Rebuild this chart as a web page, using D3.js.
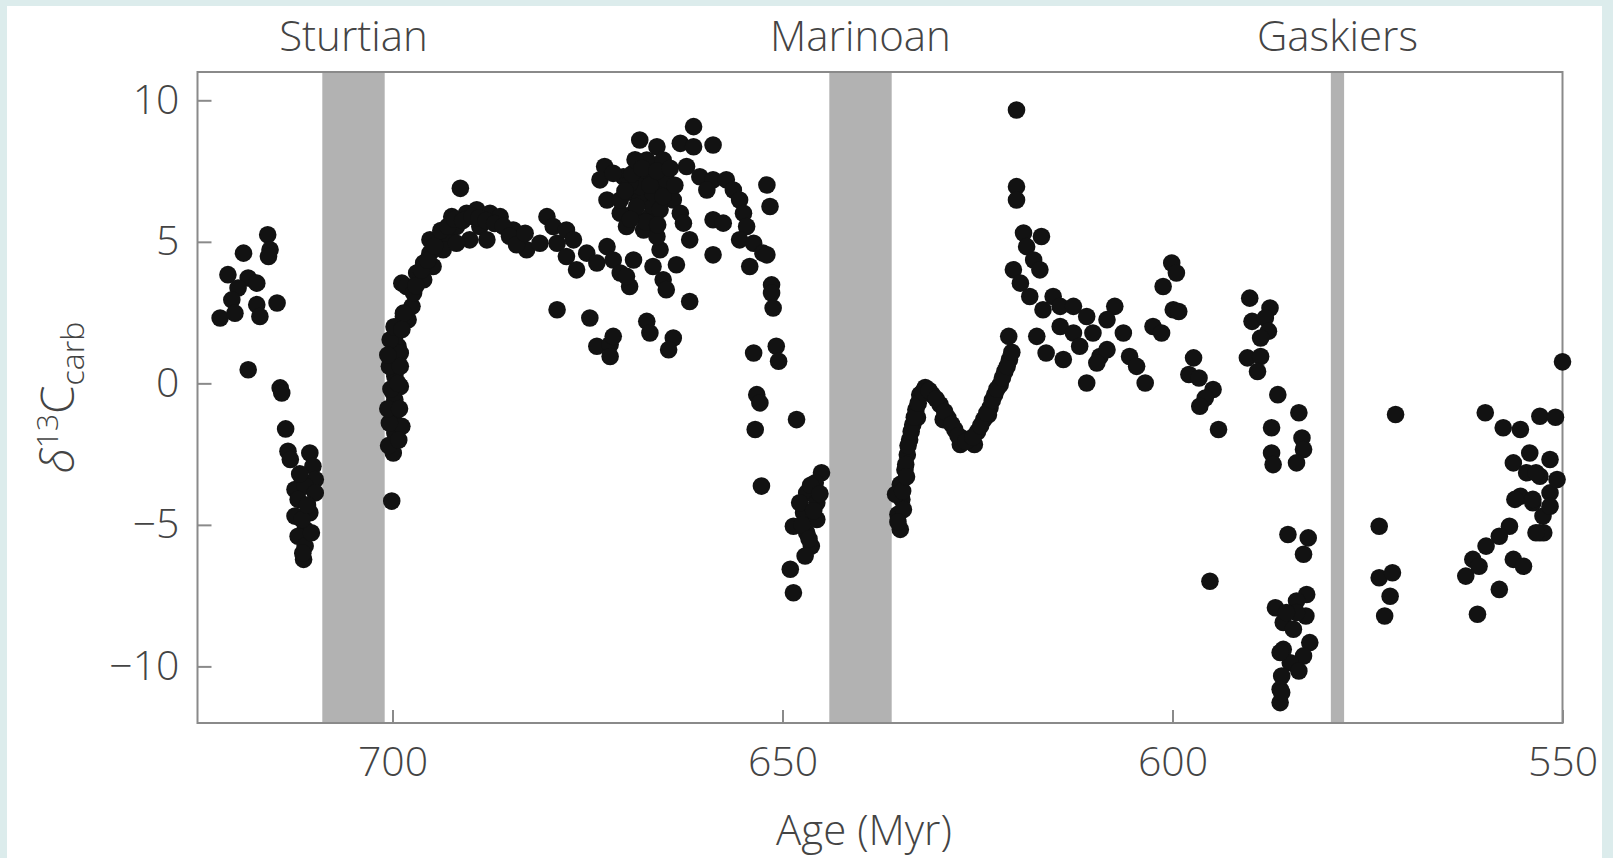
<!DOCTYPE html>
<html>
<head>
<meta charset="utf-8">
<script src="https://d3js.org/d3.v7.min.js"></script>
<style>
  body { margin: 0; background: #dcecec; }
  svg { display: block; }
</style>
</head>
<body>
<svg id="chart" width="1613" height="858"></svg>
<script>
// glaciations (Myr)
const glacNames = ["Sturtian", "Marinoan", "Gaskiers"];
const glacStart = [709, 644, 579.7];
const glacEnd = [701, 636, 578];

const xTicks = [700, 650, 600, 550];
const yTicks = [-10, -5, 0, 5, 10];

// [age (Myr), d13C carb]
const preSturtian = [[716.0,5.25],[715.7,4.72],[715.9,4.48],[719.1,4.60],[721.1,3.84],[718.5,3.72],[717.4,3.54],[719.8,3.37],[720.6,2.95],[717.4,2.78],[714.8,2.84],[722.1,2.31],[720.2,2.48],[717.0,2.36],[718.5,0.48],[714.4,-0.16],[714.2,-0.34],[713.7,-1.61],[713.4,-2.40],[713.1,-2.69],[710.6,-2.46],[710.2,-2.93],[709.9,-3.40],[712.5,-3.75],[711.2,-3.63],[712.1,-4.10],[710.6,-4.57],[712.5,-4.69],[711.2,-5.16],[712.1,-5.40],[711.2,-5.75],[711.4,-6.22],[710.4,-5.28],[711.6,-4.81],[709.9,-3.87],[710.9,-4.3],[711.9,-3.2],[711.5,-6.0]];

const postSturtian = [[700.1,-4.16],[698.8,3.54],[698.6,2.36],[699.7,1.66],[699.5,1.07],[699.7,0.37],[699.7,-0.58],[699.9,-1.16],[699.7,-1.75],[699.9,-2.46],[699.0,-0.11],[698.8,-1.52],[699.9,-0.34],[699.7,0.25],[699.3,1.31],[698.0,2.25],[697.5,2.72],[698.2,3.42],[696.9,3.90],[696.0,4.25],[695.2,4.60],[694.3,5.07],[693.0,5.19],[691.8,5.54],[691.3,6.89],[692.4,5.89],[690.5,6.01],[689.2,6.13],[687.5,6.01],[686.2,5.89],[688.8,5.54],[690.1,5.07],[687.9,5.07],[684.5,5.42],[683.7,5.07],[682.8,4.72],[681.1,4.95],[680.2,5.89],[679.4,5.54],[678.9,4.95],[677.7,5.42],[676.8,5.07],[677.7,4.48],[676.4,4.01],[675.1,4.60],[673.8,4.25],[672.5,4.83],[671.7,4.36],[670.8,3.90],[669.6,3.42],[669.1,4.36],[670.0,3.78],[678.9,2.60],[674.7,2.31],[673.8,1.31],[672.1,1.37],[671.7,1.66],[672.1,0.95],[667.4,2.19],[667.0,1.78],[664.0,1.60],[664.6,1.19],[661.9,2.89],[666.6,4.13],[665.3,3.66],[664.9,3.31],[663.6,4.19],[665.7,4.72],[697.3,3.19],[698.6,2.48],[696.0,3.66],[694.8,4.13],[693.5,4.72],[695.2,5.07],[691.8,4.95],[699.0,1.07],[700.3,1.54],
  [700.5,-2.2],[700.4,-1.4],[700.6,-0.9],[700.2,-0.2],[700.4,0.6],[699.2,-2.0],[699.1,-0.9],[699.3,0.0],[699.0,0.6],[700.6,1.0],[699.8,2.0],[698.8,1.9],
  [697.0,3.45],[696.3,4.0],[695.5,4.35],[694.6,4.85],[693.8,5.4],[692.9,5.55],[692.0,5.8],[691.0,5.75],[689.8,5.9],[688.9,5.85],[688.0,5.75],[686.9,5.65],[685.8,5.55],[685.0,5.2],[684.1,4.9],[683.0,5.3]];

const hump = [[672.8,7.66],[673.4,7.19],[672.5,6.48],[670.4,7.30],[668.3,8.60],[666.1,8.36],[667.4,7.89],[665.3,7.89],[667.8,7.19],[669.1,6.72],[667.4,6.48],[665.7,6.95],[669.1,6.01],[667.0,5.89],[670.8,6.01],[670.0,5.54],[667.8,5.42],[666.1,5.19],[664.9,7.19],[664.0,6.48],[663.1,6.01],[662.7,5.66],[661.9,5.07],[663.1,8.48],[661.4,9.07],[661.4,8.36],[658.9,8.42],[662.3,7.66],[660.6,7.30],[658.9,7.19],[657.2,7.19],[659.7,6.83],[656.3,6.83],[655.5,6.48],[658.9,5.78],[657.6,5.66],[655.0,6.01],[654.6,5.54],[655.5,5.07],[653.7,4.95],[652.5,4.60],[654.2,4.13],[658.9,4.54],[652.0,7.01],[651.6,6.25],[653.7,1.07],[668.3,6.48],[666.6,6.25],[668.3,6.95],[670.8,6.48],[671.7,7.42],[669.6,7.07],[666.6,6.72],[668.7,6.25],[665.7,6.13],
  [670.2,6.8],[669.3,7.4],[668.9,7.9],[668.0,7.6],[667.0,7.0],[666.1,7.5],[665.3,6.6],[667.5,5.7],[666.0,5.6],[669.5,5.8],[664.4,7.6],[663.8,7.0]];

const preMarinoan = [[652.0,4.54],[651.4,3.48],[651.4,3.19],[651.2,2.66],[650.8,1.31],[650.5,0.78],[653.3,-0.40],[652.9,-0.69],[653.5,-1.63],[648.2,-1.28],[652.7,-3.63],[645.0,-3.16],[645.8,-3.51],[646.9,-3.87],[645.6,-4.22],[647.3,-4.57],[645.6,-4.81],[648.6,-5.05],[646.9,-5.28],[646.3,-5.75],[647.1,-6.10],[649.0,-6.57],[648.6,-7.40],[647.8,-4.22],
  [646.4,-3.6],[646.0,-4.5],[647.5,-5.0],[645.2,-3.9],[646.6,-5.5]];

const postMarinoan = [[634.9,-5.16],[635.2,-4.63],[634.7,-4.10],[634.9,-3.57],[634.3,-3.05],[634.0,-2.52],[633.7,-1.99],[633.3,-1.46],[632.9,-0.93],[632.4,-0.40],[631.7,-0.15],[630.8,-0.40],[629.8,-0.75],[628.8,-1.22],[627.9,-1.64],[627.0,-1.93],[626.0,-1.99],[625.0,-1.71],[624.2,-1.28],[623.4,-0.86],[622.8,-0.40],[622.1,-0.05],[621.5,0.42],[620.9,0.84],[634.5,-4.46],[635.5,-3.92],[634.2,-2.87],[632.7,-1.21],[629.4,-1.28],[627.2,-2.16],[625.4,-2.16],[623.6,-1.11],
  [635.2,-4.9],[634.6,-3.8],[634.1,-3.3],[633.9,-2.2],[633.5,-1.7],[633.1,-1.2],[632.6,-0.7],[632.0,-0.3],[631.2,-0.25],[630.3,-0.55],[629.2,-1.0],[628.3,-1.45],[627.5,-1.85],[626.5,-2.05],[625.6,-1.9],[624.6,-1.5],[623.8,-1.05],[623.1,-0.6],[622.5,-0.2],[621.8,0.2],[621.2,0.6],[620.6,1.1],
  [621.0,1.66],[620.0,9.66],[620.0,6.95],[620.0,6.48],[619.1,5.31],[616.8,5.19],[618.7,4.83],[617.8,4.36],[620.4,4.01],[617.0,4.01],[619.5,3.54],[618.3,3.07],[615.3,3.07],[616.6,2.60],[614.4,2.72],[612.7,2.72],[611.0,2.36],[607.4,2.72],[608.4,2.25],[614.4,2.01],[617.4,1.66],[612.7,1.78],[610.2,1.78],[606.3,1.78],[616.2,1.07],[614.0,0.84],[611.9,1.31],[609.3,0.95],[608.4,1.19],[609.7,0.72],[611.0,0.01],[605.5,0.95],[604.6,0.60],[603.5,0.01],[602.5,2.01],[601.4,1.78],[601.2,3.42],[600.1,4.25],[599.5,3.90],[599.9,2.60],[599.2,2.54],[597.3,0.90],[597.9,0.31],[596.6,0.19],[594.8,-0.22],[595.8,-0.52],[596.5,-0.81],[594.1,-1.63],[595.2,-6.99]];

const preGaskiers = [[590.1,3.01],[587.5,2.66],[589.8,2.19],[588.1,2.31],[587.7,1.84],[588.7,1.60],[590.4,0.90],[588.7,0.95],[589.1,0.42],[586.5,-0.40],[583.8,-1.04],[587.3,-1.57],[583.4,-1.93],[583.2,-2.34],[587.3,-2.46],[587.1,-2.87],[584.1,-2.81],[585.2,-5.34],[582.6,-5.46],[583.2,-6.04],[582.8,-7.46],[584.1,-7.69],[586.8,-7.93],[582.9,-8.22],[585.8,-8.45],[584.5,-8.69],[582.4,-9.16],[585.8,-9.40],[583.2,-9.63],[584.9,-9.87],[586.0,-10.34],[586.2,-10.81],[586.2,-11.28],[583.8,-10.16],[584.1,-8.10],[585.4,-8.10],[586.2,-9.51],[586.0,-10.92]];

const postGaskiers = [[571.4,-1.10],[559.9,-1.04],[557.6,-1.57],[555.4,-1.63],[552.9,-1.16],[550.9,-1.20],[554.2,-2.46],[556.3,-2.81],[554.6,-3.16],[552.9,-3.28],[555.4,-3.99],[553.8,-4.22],[552.5,-4.69],[552.9,-5.28],[551.6,-3.87],[556.8,-5.05],[558.1,-5.40],[559.8,-5.75],[561.5,-6.22],[562.4,-6.81],[560.7,-6.46],[556.3,-6.22],[555.0,-6.46],[558.1,-7.28],[560.9,-8.16],[573.5,-5.05],[573.5,-6.87],[571.8,-6.69],[572.1,-7.52],[572.8,-8.22],[550.0,0.76],[551.6,-2.69],[550.7,-3.40],[551.6,-4.34],[552.4,-5.28],[553.4,-3.16],[553.8,-4.10],[556.1,-4.10],[553.4,-5.28]];

const allPoints = [].concat(preSturtian, postSturtian, hump, preMarinoan, postMarinoan, preGaskiers, postGaskiers);

const W = 1613, H = 858;
const plot = { left: 197.5, right: 1562.5, top: 72, bottom: 723 };
const font = "'Open Sans', 'DejaVu Sans', sans-serif";
const textColor = "#444";

const svg = d3.select("#chart");

svg.append("rect").attr("x", 0).attr("y", 0).attr("width", W).attr("height", H).attr("fill", "#dcecec");
svg.append("rect").attr("x", 7).attr("y", 6).attr("width", 1595).attr("height", H - 6).attr("fill", "#fff");

var x = d3.scaleLinear().domain([725, 550]).range([plot.left, plot.right]);
var y = d3.scaleLinear().domain([-12, 11]).range([plot.bottom, plot.top]);

// glaciation bands
svg.append("g")
    .selectAll("rect")
    .data(glacNames)
    .enter().append("rect")
    .attr("x", function(d, i) { return x(glacStart[i]); })
    .attr("width", function(d, i) { return x(glacEnd[i]) - x(glacStart[i]); })
    .attr("y", plot.top)
    .attr("height", plot.bottom - plot.top)
    .attr("fill", "#b2b2b2");

svg.append("g")
    .selectAll("text")
    .data(glacNames)
    .enter().append("text")
    .attr("x", function(d, i) { return (x(glacStart[i]) + x(glacEnd[i])) / 2; })
    .attr("y", 51)
    .attr("text-anchor", "middle")
    .attr("font-family", font)
    .attr("font-weight", 300)
    .attr("font-size", 42)
    .attr("fill", textColor)
    .text(function(d) { return d; });

// frame
svg.append("rect")
    .attr("x", plot.left).attr("y", plot.top)
    .attr("width", plot.right - plot.left).attr("height", plot.bottom - plot.top)
    .attr("fill", "none").attr("stroke", "#8a8a8a").attr("stroke-width", 2);

// axes
var yAxis = svg.append("g")
    .attr("transform", "translate(" + plot.left + ",0)")
    .call(d3.axisLeft(y).tickValues(yTicks).tickSize(-14).tickPadding(18)
        .tickFormat(function(d) { return d < 0 ? "\u2212" + Math.abs(d) : d; }));
var xAxis = svg.append("g")
    .attr("transform", "translate(0," + plot.bottom + ")")
    .call(d3.axisBottom(x).tickValues(xTicks).tickSize(-13).tickPadding(24));

[xAxis, yAxis].forEach(function(g) {
    g.select(".domain").remove();
    g.selectAll(".tick line").attr("stroke", "#8a8a8a").attr("stroke-width", 2);
    g.selectAll(".tick text")
        .attr("font-family", font)
        .attr("font-weight", 300)
        .attr("font-size", 41)
        .attr("fill", textColor);
});

// points
svg.append("g")
    .selectAll("circle")
    .data(allPoints)
    .enter().append("circle")
    .attr("cx", function(d) { return x(d[0]); })
    .attr("cy", function(d) { return y(d[1]); })
    .attr("r", 8.8)
    .attr("fill", "#121212");

// axis titles
svg.append("text")
    .attr("x", 864)
    .attr("y", 845)
    .attr("text-anchor", "middle")
    .attr("font-family", font)
    .attr("font-weight", 300)
    .attr("font-size", 42)
    .attr("fill", textColor)
    .text("Age (Myr)");

var yt = svg.append("text")
    .attr("transform", "translate(74," + (plot.top + plot.bottom) / 2 + ") rotate(-90)")
    .attr("text-anchor", "middle")
    .attr("font-family", font)
    .attr("font-weight", 300)
    .attr("font-size", 46)
    .attr("fill", textColor);
yt.append("tspan").attr("font-style", "italic").text("\u03B4");
yt.append("tspan").attr("font-size", 30).attr("dy", -16).text("13");
yt.append("tspan").attr("dy", 16).text("C");
yt.append("tspan").attr("font-size", 32).attr("dy", 10).text("carb");
</script>
</body>
</html>
